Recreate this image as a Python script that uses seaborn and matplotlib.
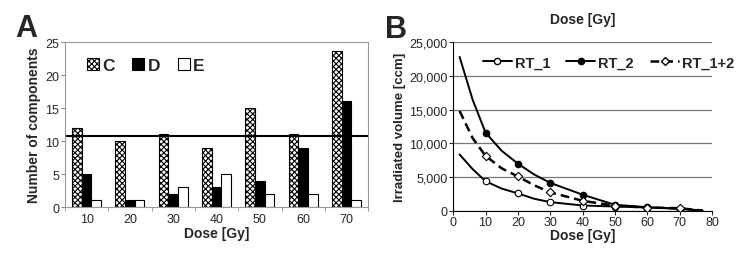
import numpy as np
import pandas as pd
import matplotlib
matplotlib.use("Agg")
import matplotlib.pyplot as plt
from matplotlib.lines import Line2D
import seaborn as sns

sns.set_style("white")
plt.rcParams['font.family'] = ['Liberation Sans', 'DejaVu Sans']
plt.rcParams['hatch.linewidth'] = 0.8

# Panel A data
doses = ["10", "20", "30", "40", "50", "60", "70"]
comp_c = [12, 10, 11, 9, 15, 11, 23.7]
comp_d = [5, 1, 2, 3, 4, 9, 16]
comp_e = [1, 1, 3, 5, 2, 2, 1]
mean_level = 10.8

# Panel B data (curve points)
curve_dose = [2, 6, 10, 15, 20, 25, 30, 40, 50, 60, 70, 77]
rt1 = [8350, 6200, 4400, 3300, 2600, 1800, 1300, 800, 650, 500, 350, 50]
rt2 = [22800, 16500, 11600, 8900, 7000, 5400, 4150, 2400, 900, 550, 300, 50]
rt12 = [14800, 10800, 8150, 6300, 5100, 3800, 2750, 1500, 750, 500, 400, 50]
marker_dose = [10, 20, 30, 40, 50, 60, 70]

fig = plt.figure(figsize=(7.38, 2.55), dpi=100)
ax1 = fig.add_axes([0.088, 0.184, 0.411, 0.647])
ax2 = fig.add_axes([0.614, 0.169, 0.351, 0.662])

# ---- Panel A: bars
bars = pd.DataFrame({
    "dose": doses * 3,
    "group": ["C"] * 7 + ["D"] * 7 + ["E"] * 7,
    "value": comp_c + comp_d + comp_e,
})
sns.barplot(data=bars, x="dose", y="value", hue="group", ax=ax1,
            palette=["white", "black", "white"], edgecolor="black",
            linewidth=0.8, width=0.67, errorbar=None, saturation=1)
for bar in ax1.containers[0]:
    bar.set_hatch("xxxxxx")
ax1.axhline(mean_level, color="black", lw=1.5)
ax1.set_ylim(0, 25)
ax1.set_xlim(-0.5, 6.5)
ax1.set_yticks([0, 5, 10, 15, 20, 25])
ax1.set_xticks(np.arange(-0.5, 7, 1), minor=True)
ax1.tick_params(axis="x", which="major", length=0, labelsize=9, pad=4)
ax1.tick_params(axis="x", which="minor", length=3, direction="out", color="#888888")
ax1.tick_params(axis="y", length=3, direction="out", labelsize=9, pad=1, color="#888888")
ax1.tick_params(bottom=True, left=True, which="both")
for s in ax1.spines.values():
    s.set_color("#999999")
    s.set_linewidth(0.8)
ax1.set_xlabel("Dose [Gy]", fontsize=10, fontweight="bold", labelpad=1)
ax1.set_ylabel("Number of components", fontsize=10, fontweight="bold", labelpad=3)
ax1.legend(loc="upper left", ncol=3, frameon=False, handlelength=0.7,
           handleheight=0.7, handletextpad=0.2, columnspacing=1.0,
           prop={"weight": "bold", "size": 12.5}, bbox_to_anchor=(0.02, 1.0))
for h in ax1.get_legend().legend_handles:
    h.set_edgecolor("black")
ax1.get_legend().legend_handles[0].set_hatch("xxxxxx")

# ---- Panel B: lines
sns.lineplot(x=curve_dose, y=rt1, ax=ax2, color="black", lw=1.4)
sns.lineplot(x=curve_dose, y=rt2, ax=ax2, color="black", lw=1.4)
sns.lineplot(x=curve_dose, y=rt12, ax=ax2, color="black", lw=1.8, linestyle=(0, (3.5, 2)))
idx = [curve_dose.index(d) for d in marker_dose]
sns.scatterplot(x=marker_dose, y=[rt1[i] for i in idx], ax=ax2, marker="o",
                color="white", edgecolor="black", s=22, linewidth=0.8, zorder=5)
sns.scatterplot(x=marker_dose, y=[rt2[i] for i in idx], ax=ax2, marker="o",
                color="black", edgecolor="black", s=22, linewidth=0.8, zorder=5)
sns.scatterplot(x=marker_dose, y=[rt12[i] for i in idx], ax=ax2, marker="D",
                color="white", edgecolor="black", s=18, linewidth=0.8, zorder=6)
ax2.set_xlim(0, 80)
ax2.set_ylim(0, 25000)
ax2.set_xticks(range(0, 81, 10))
ax2.set_yticks(range(0, 25001, 5000))
ax2.set_yticklabels([f"{v:,}" for v in range(0, 25001, 5000)])
ax2.yaxis.grid(True, color="#777777", lw=0.9)
ax2.set_axisbelow(True)
ax2.spines["top"].set_visible(False)
ax2.spines["right"].set_visible(False)
for s in ["left", "bottom"]:
    ax2.spines[s].set_color("black")
    ax2.spines[s].set_linewidth(0.8)
ax2.tick_params(axis="both", length=3, direction="out", labelsize=9, pad=1,
                bottom=True, left=True)
ax2.set_xlabel("Dose [Gy]", fontsize=10, fontweight="bold", labelpad=0)
ax2.set_ylabel("Irradiated volume [ccm]", fontsize=9.5, fontweight="bold", labelpad=2)
ax2.set_title("Dose [Gy]", fontsize=10, fontweight="bold", pad=14)

handles = [
    Line2D([], [], color="black", lw=1.4, marker="o", mfc="white", mec="black", ms=4.5),
    Line2D([], [], color="black", lw=1.4, marker="o", mfc="black", mec="black", ms=4.5),
    Line2D([], [], color="black", lw=1.8, linestyle=(0, (3.5, 2)), marker="D",
           mfc="white", mec="black", ms=4),
]
leg = ax2.legend(handles, ["RT_1", "RT_2", "RT_1+2"], loc="upper center", ncol=3,
                 frameon=False, handlelength=2.0, handletextpad=0.2, columnspacing=1.1,
                 prop={"weight": "bold", "size": 10.5}, bbox_to_anchor=(0.6, 1.0))

fig.text(0.02, 0.855, "A", fontsize=22, fontweight="bold")
fig.text(0.522, 0.851, "B", fontsize=22, fontweight="bold")

fig.savefig("out.png", dpi=100)
